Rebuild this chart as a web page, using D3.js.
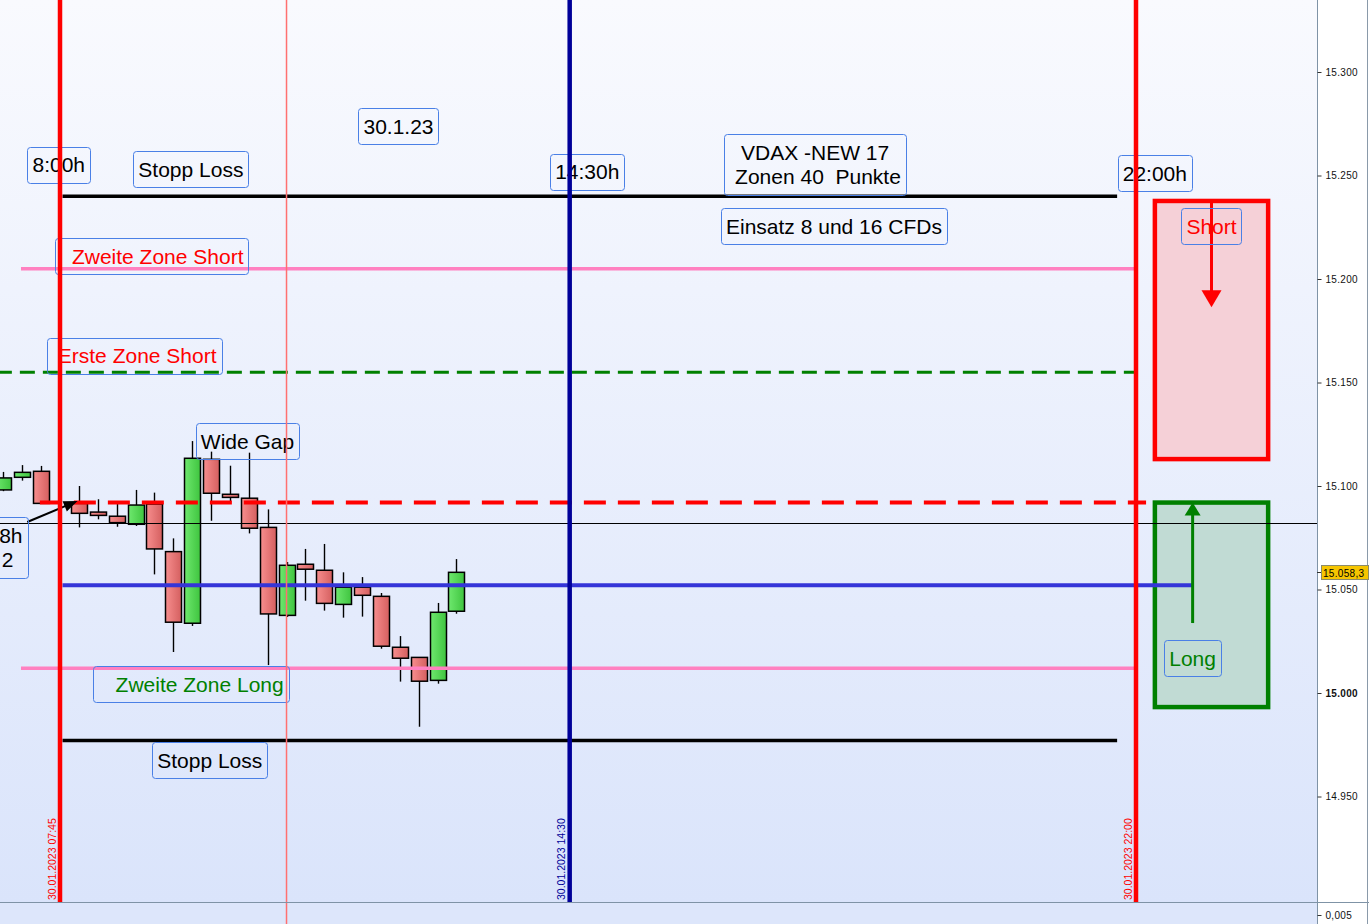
<!DOCTYPE html>
<html><head><meta charset="utf-8">
<script src="https://cdn.jsdelivr.net/npm/d3@7"></script>
<style>
html,body{margin:0;padding:0;background:#fff;overflow:hidden}
svg{display:block}
text{font-family:"Liberation Sans",Arial,sans-serif}
</style>
</head><body>
<svg id="chart" width="1369" height="924"></svg>
<script>
// ---------- DATA ----------
const tradeDay = [2023, 0, 30];
const candleTimes = ["07:00","07:15","07:30","08:00","08:15","08:30","08:45","09:00","09:15","09:30","09:45","10:00",
                     "10:15","10:30","10:45","11:00","11:15","11:30","11:45","12:00","12:15","12:30","12:45","13:00"];
const candleOpen  = [15098.1,15104.2,15107.1,15091.6,15087.4,15085.4,15081.5,15091.3,15068.3,15033.7,15112.9,15096.0,
                     15094.1,15080.0,15037.5,15062.2,15059.3,15042.8,15051.1,15046.7,15022.1,15017.2,15006.1,15039.5];
const candleHigh  = [15106.8,15110.1,15109.7,15100.0,15093.6,15091.8,15098.1,15096.8,15074.7,15121.7,15116.6,15109.8,
                     15116.1,15088.7,15063.3,15069.6,15072.0,15058.3,15056.0,15048.3,15027.5,15017.4,15043.5,15064.7];
const candleLow   = [15097.5,15102.6,15091.6,15080.0,15083.9,15080.3,15080.7,15057.3,15019.8,15032.4,15083.2,15092.4,
                     15077.1,15013.5,15036.7,15044.6,15039.8,15036.4,15036.9,15021.4,15005.5,14983.7,15004.5,15038.3];
const candleClose = [15103.9,15106.6,15091.6,15086.8,15085.8,15082.3,15090.8,15069.6,15034.2,15113.4,15096.5,15094.5,
                     15079.6,15038.2,15061.7,15059.8,15043.3,15051.1,15047.2,15022.6,15016.8,15005.7,15039.0,15058.3];
const lastPrice = 15058.3;

const yTickValues = [14950,15000,15050,15100,15150,15200,15250,15300];
const lowerPanelTicks = [0.005];

const levelNames  = ["stopLossHigh","zone2Short","zone1Short","entry","lastClose","zone1Long","zone2Long","stopLossLow"];
const levelPrices = [15240,15205,15155,15092,15082,15052,15012,14977];
const levelStart  = ["07:47","07:14","06:00","07:29","06:00","07:47","07:14","07:47"];
const levelEnd    = ["21:45","22:00","22:00","22:08","26:00","22:45","22:00","21:45"];

const markerNames = ["open","us","close"];
const markerTimes = ["07:45","14:30","22:00"];
const cursorTime  = "10:45";

const zoneNames  = ["short","long"];
const zoneStart  = ["22:15","22:15"];
const zoneEnd    = ["23:45","23:45"];
const zoneTop    = [15237.7,15092.0];
const zoneBottom = [15113.0,14993.2];

const arrowNames = ["short","long","gap"];
const arrowFromT = ["23:00","22:45","07:19"];
const arrowFromP = [15237.7,15033.8,15082.6];
const arrowToT   = ["23:00","22:45","07:59"];
const arrowToP   = [15186.4,15092.0,15092.8];

const noteTexts  = ["8:00h","Stopp Loss","30.1.23","14:30h","VDAX -NEW 17| Zonen 40  Punkte","Einsatz 8 und 16 CFDs","22:00h",
                    "  Zweite Zone Short"," Erste Zone Short","Wide Gap","Gap 18h|Kurs 2","   Zweite Zone Long","Stopp Loss","Short","Long"];
const noteTimes  = ["07:44","09:29","12:14","14:44","17:45","18:00","22:15","08:58","08:44","10:14","06:45","09:29","09:44","23:00","22:45"];
const notePrices = [15255.3,15252.9,15273.9,15251.7,15255.3,15225.6,15251.0,15211.1,15163.0,15121.5,15070.3,15004.3,14967.4,15225.6,15016.9];
const noteKinds  = ["plain","plain","plain","plain","plain","plain","plain","short","short","plain","plain","long","plain","short","long"];

// ---------- STYLES ----------
const levelStyle = {
  stopLossHigh:{stroke:"#000000",width:3.5,dash:null},
  zone2Short:{stroke:"#ff80c0",width:3.5,dash:null},
  zone1Short:{stroke:"#008000",width:3,dash:"15,8"},
  entry:{stroke:"#ff0000",width:4,dash:"22,12"},
  lastClose:{stroke:"#000000",width:1,dash:null},
  zone1Long:{stroke:"#3535d8",width:4,dash:null},
  zone2Long:{stroke:"#ff80c0",width:3.5,dash:null},
  stopLossLow:{stroke:"#000000",width:3.5,dash:null}
};
const markerStyle = {open:"#ff0000",us:"#000099",close:"#ff0000"};
const zoneStyle = {short:{stroke:"#ff0000",fill:"#f5d0d7"},long:{stroke:"#008000",fill:"#c1dbd4"}};
const arrowStyle = {short:{c:"#ff0000",w:3,hl:17,hw:20},long:{c:"#008000",w:3,hl:13,hw:16},gap:{c:"#000000",w:2,hl:14,hw:11}};
const noteColor = {plain:"#000000",short:"#ff0000",long:"#008000"};

// ---------- SETUP ----------
const W = 1369, H = 924, plotR = 1317, plotB = 902;
const T = s => { const [h,m] = s.split(":").map(Number); return new Date(tradeDay[0], tradeDay[1], tradeDay[2], h, m); };
const x = d3.scaleTime().domain([T("07:45"), T("22:00")]).range([60, 1136]);
const y = d3.scaleLinear().domain([15000, 15300]).range([693, 72]);
const svg = d3.select("#chart");
const defs = svg.append("defs");

const bg = defs.append("linearGradient").attr("id","bg").attr("x1",0).attr("x2",0).attr("y1",0).attr("y2",1);
bg.append("stop").attr("offset","0%").attr("stop-color","#f9fafe");
bg.append("stop").attr("offset","100%").attr("stop-color","#dae4fb");
const gUp = defs.append("linearGradient").attr("id","gUp");
gUp.append("stop").attr("offset","0%").attr("stop-color","#6ee86e");
gUp.append("stop").attr("offset","100%").attr("stop-color","#3fc43f");
const gDn = defs.append("linearGradient").attr("id","gDn");
gDn.append("stop").attr("offset","0%").attr("stop-color","#f78e8e");
gDn.append("stop").attr("offset","100%").attr("stop-color","#d45f5f");
defs.append("clipPath").attr("id","plotClip").append("rect").attr("x",0).attr("y",0).attr("width",plotR).attr("height",plotB);

svg.append("rect").attr("width",W).attr("height",H).attr("fill","#ffffff");
svg.append("rect").attr("width",plotR).attr("height",plotB).attr("fill","url(#bg)");
svg.append("rect").attr("y",plotB).attr("width",plotR).attr("height",H-plotB).attr("fill","#dde6fb");

const plot = svg.append("g").attr("clip-path","url(#plotClip)");

// zones
zoneNames.forEach((n,i)=>{
  const st = zoneStyle[n];
  plot.append("rect")
    .attr("x", x(T(zoneStart[i]))).attr("y", y(zoneTop[i]))
    .attr("width", x(T(zoneEnd[i])) - x(T(zoneStart[i])))
    .attr("height", y(zoneBottom[i]) - y(zoneTop[i]))
    .attr("fill", st.fill).attr("stroke", st.stroke).attr("stroke-width", 4.5);
});

// candles
const step = x(T("08:15")) - x(T("08:00"));
const bw = Math.round(step * 0.85);
const candles = candleTimes.map((t,i)=>({t:T(t),o:candleOpen[i],h:candleHigh[i],l:candleLow[i],c:candleClose[i]}));
const cg = plot.append("g");
cg.selectAll("line.w").data(candles).join("line").attr("class","w")
  .attr("x1",d=>Math.round(x(d.t))+0.5).attr("x2",d=>Math.round(x(d.t))+0.5)
  .attr("y1",d=>y(d.h)).attr("y2",d=>y(d.l)).attr("stroke","#000").attr("stroke-width",1.4);
cg.selectAll("rect.b").data(candles).join("rect").attr("class","b")
  .attr("x",d=>Math.round(x(d.t))+0.5-bw/2).attr("width",bw)
  .attr("y",d=>y(Math.max(d.o,d.c))).attr("height",d=>Math.max(2,Math.abs(y(d.o)-y(d.c))))
  .attr("fill",d=>d.c>=d.o?"url(#gUp)":"url(#gDn)").attr("stroke","#000").attr("stroke-width",1.5);

// horizontal levels
levelNames.forEach((n,i)=>{
  const st = levelStyle[n];
  const yy = st.width===1 ? Math.round(y(levelPrices[i]))+0.5 : y(levelPrices[i]);
  plot.append("line").attr("x1",x(T(levelStart[i]))).attr("x2",x(T(levelEnd[i])))
    .attr("y1",yy).attr("y2",yy).attr("stroke",st.stroke).attr("stroke-width",st.width)
    .attr("stroke-dasharray",st.dash);
});

// cursor line (drawn above candles and levels)
svg.append("line").attr("x1",x(T(cursorTime))).attr("x2",x(T(cursorTime)))
  .attr("y1",0).attr("y2",H).attr("stroke","#ff7070").attr("stroke-width",1.5);

// arrows
function drawArrow(g, x1,y1,x2,y2,st){
  const a = Math.atan2(y2-y1,x2-x1);
  const bx = x2 - st.hl*Math.cos(a), by = y2 - st.hl*Math.sin(a);
  g.append("line").attr("x1",x1).attr("y1",y1).attr("x2",bx+Math.cos(a)).attr("y2",by+Math.sin(a))
    .attr("stroke",st.c).attr("stroke-width",st.w);
  const px = -Math.sin(a)*st.hw/2, py = Math.cos(a)*st.hw/2;
  g.append("path").attr("d",`M${x2},${y2}L${bx+px},${by+py}L${bx-px},${by-py}Z`).attr("fill",st.c);
}
arrowNames.forEach((n,i)=>{
  drawArrow(plot, x(T(arrowFromT[i])), y(arrowFromP[i]), x(T(arrowToT[i])), y(arrowToP[i]), arrowStyle[n]);
});

// notes
const fs = 21, lh = 24.5;
noteTexts.forEach((txt,i)=>{
  const lines = txt.split("|");
  const cx = x(T(noteTimes[i])), cy = y(notePrices[i]);
  const g = plot.append("g");
  const multi = lines.length > 1 && noteTexts[i].startsWith("Gap");
  const t = g.append("text").attr("text-anchor", multi ? "end" : "middle").attr("font-size",fs)
    .attr("fill",noteColor[noteKinds[i]]).style("white-space","pre");
  lines.forEach((ln,k)=>{
    t.append("tspan").attr("x", multi ? cx + 38 - (k===1 ? 9 : 0) : cx)
      .attr("y",cy - (lines.length-1)*lh/2 + k*lh + 7.5).text(ln);
  });
  const bb = t.node().getBBox();
  g.insert("rect","text").attr("x",Math.round(bb.x-5)+0.5).attr("y",Math.round(bb.y-6.5)+0.5)
    .attr("width",Math.round(bb.width+10)).attr("height",Math.round(bb.height+13))
    .attr("rx",3).attr("fill","none").attr("stroke","#4a80e6").attr("stroke-width",1);
});

// vertical markers
const fmtMarker = d3.timeFormat("%d.%m.%Y %H:%M");
markerNames.forEach((n,i)=>{
  const xx = x(T(markerTimes[i]));
  svg.append("line").attr("x1",xx).attr("x2",xx).attr("y1",0).attr("y2",plotB)
    .attr("stroke",markerStyle[n]).attr("stroke-width",4.5);
  svg.append("text").attr("transform",`translate(${xx-4.5},${plotB-2}) rotate(-90)`)
    .attr("font-size",10.5).attr("fill",markerStyle[n]).text(fmtMarker(T(markerTimes[i])));
});

// right axis
svg.append("line").attr("x1",plotR+0.5).attr("x2",plotR+0.5).attr("y1",0).attr("y2",H).attr("stroke","#7f93a6");
svg.append("line").attr("x1",0).attr("x2",W).attr("y1",plotB+0.5).attr("y2",plotB+0.5).attr("stroke","#7f93a6");
svg.append("line").attr("x1",W-1.5).attr("x2",W-1.5).attr("y1",0).attr("y2",H).attr("stroke","#8a9aaa");

const deFmt = d => d3.format(",")(d).replace(/,/g,".");
const axis = d3.axisRight(y).tickValues(yTickValues).tickSize(4).tickPadding(4).tickFormat(deFmt);
const ag = svg.append("g").attr("transform",`translate(${plotR+0.5},0)`).call(axis);
ag.select(".domain").remove();
ag.selectAll(".tick line").attr("stroke","#333");
ag.selectAll(".tick text").attr("font-size",10).attr("fill","#111").attr("font-family","Liberation Sans, Arial")
  .attr("font-weight",d=>d===15000?"bold":"normal").attr("letter-spacing",0.3);

const yLow = d3.scaleLinear().domain([0,0.01]).range([928,902]);
const ag2 = svg.append("g").attr("transform",`translate(${plotR+0.5},0)`)
  .call(d3.axisRight(yLow).tickValues(lowerPanelTicks).tickSize(4).tickPadding(4).tickFormat(d=>d3.format(".3f")(d).replace(".",",")));
ag2.select(".domain").remove();
ag2.selectAll(".tick line").attr("stroke","#333");
ag2.selectAll(".tick text").attr("font-size",10).attr("fill","#111").attr("font-family","Liberation Sans, Arial").attr("letter-spacing",0.3);

// last price tag
const py = y(lastPrice);
svg.append("line").attr("x1",plotR).attr("x2",plotR+4).attr("y1",Math.round(py)+0.5).attr("y2",Math.round(py)+0.5).attr("stroke","#333");
svg.append("rect").attr("x",plotR+4.5).attr("y",Math.round(py)-6.5).attr("width",W-plotR-5).attr("height",14)
  .attr("fill","#f6c500").attr("stroke","#8c8c6a");
svg.append("text").attr("x",plotR+6).attr("y",Math.round(py)+4.5).attr("font-size",10).attr("fill","#000")
  .attr("letter-spacing",0.3).text(d3.format(",.1f")(lastPrice).replace(/,/g,"X").replace(".",",").replace(/X/g,"."));
</script>
</body></html>
